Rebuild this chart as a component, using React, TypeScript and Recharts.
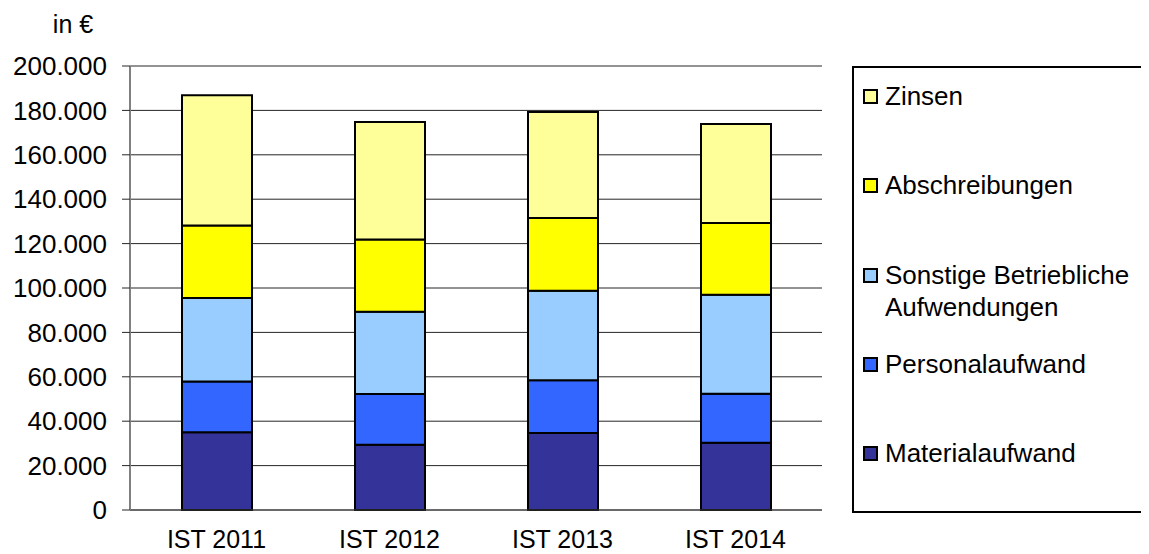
import React from "react";
import { BarChart, Bar, XAxis, YAxis, CartesianGrid, ReferenceArea } from "recharts";

const periods = ["IST 2011", "IST 2012", "IST 2013", "IST 2014"];
const materialaufwand = [35000, 29400, 34700, 30300];
const personalaufwand = [22900, 22900, 23700, 22100];
const sonstigeAufwendungen = [37600, 37000, 40400, 44600];
const abschreibungen = [32700, 32600, 32700, 32300];
const zinsen = [58600, 52900, 47800, 44600];
const yTicks = [0, 20000, 40000, 60000, 80000, 100000, 120000, 140000, 160000, 180000, 200000];
const bandEdges = [0, 1, 2, 3, 4];

const series = [
  { key: "material", name: "Materialaufwand", color: "#333399", values: materialaufwand },
  { key: "personal", name: "Personalaufwand", color: "#3366FF", values: personalaufwand },
  { key: "sonstige", name: "Sonstige Betriebliche Aufwendungen", color: "#99CCFF", values: sonstigeAufwendungen },
  { key: "abschreibungen", name: "Abschreibungen", color: "#FFFF00", values: abschreibungen },
  { key: "zinsen", name: "Zinsen", color: "#FFFF99", values: zinsen },
];

const data = periods.map((period, i) => {
  const row: Record<string, string | number> = { period };
  series.forEach((s) => {
    row[s.key] = s.values[i];
  });
  return row;
});

const formatEuro = (v: number) => String(v).replace(/\B(?=(\d{3})+(?!\d))/g, ".");

const FONT = "'Liberation Sans', Arial, sans-serif";

function LegendBox() {
  return (
    <div
      style={{
        position: "absolute",
        left: 844,
        top: 58,
        width: 292,
        height: 447,
        boxSizing: "border-box",
        border: "2px solid #000",
        padding: "12px 2px 0 9px",
        background: "#fff",
      }}
    >
      {[...series].reverse().map((s) => (
        <div key={s.key} style={{ height: 89.25, display: "flex", alignItems: "flex-start" }}>
          <div
            style={{
              width: 15,
              height: 15,
              boxSizing: "border-box",
              border: "2px solid #000",
              background: s.color,
              marginTop: 9,
              marginRight: 7,
              flexShrink: 0,
            }}
          />
          <div style={{ fontSize: 26, lineHeight: "32px", color: "#000" }}>{s.name}</div>
        </div>
      ))}
    </div>
  );
}

export default function App() {
  return (
    <div style={{ position: "relative", width: 1141, height: 546, fontFamily: FONT }}>
      <BarChart
        width={1141}
        height={546}
        data={data}
        margin={{ top: 58, right: 327, bottom: 4, left: 0 }}
      >
        <CartesianGrid vertical={false} xAxisId="cat" stroke="#262626" strokeWidth={1} />
        {/* band boundaries, used for the small ticks under the x axis */}
        <XAxis
          xAxisId="edges"
          type="number"
          domain={[0, 4]}
          ticks={bandEdges}
          tick={false}
          tickSize={7}
          tickLine={{ stroke: "#404040" }}
          axisLine={false}
          height={0}
        />
        <XAxis
          xAxisId="cat"
          dataKey="period"
          tickLine={false}
          tickSize={6}
          tickMargin={14}
          axisLine={{ stroke: "#404040", strokeWidth: 1 }}
          tick={{ fill: "#000", fontSize: 25 }}
          height={40}
        />
        <YAxis
          width={122}
          domain={[0, 200000]}
          ticks={yTicks}
          tickFormatter={formatEuro}
          tickSize={8}
          tickMargin={15}
          tickLine={{ stroke: "#262626" }}
          axisLine={{ stroke: "#808080", strokeWidth: 2 }}
          tick={{ fill: "#000", fontSize: 26 }}
          interval={0}
          label={{ value: "in €", position: "top", offset: 33, dx: 4, fill: "#000", fontSize: 25 }}
        />
        <ReferenceArea
          xAxisId="edges"
          x1={0}
          x2={4}
          y1={0}
          y2={200000}
          fill="none"
          stroke="#808080"
          strokeWidth={2}
        />
        {series.map((s) => (
          <Bar
            key={s.key}
            xAxisId="cat"
            dataKey={s.key}
            name={s.name}
            stackId="kosten"
            fill={s.color}
            stroke="#000"
            strokeWidth={2}
            barSize={70}
            isAnimationActive={false}
          />
        ))}
      </BarChart>
      <LegendBox />
    </div>
  );
}
